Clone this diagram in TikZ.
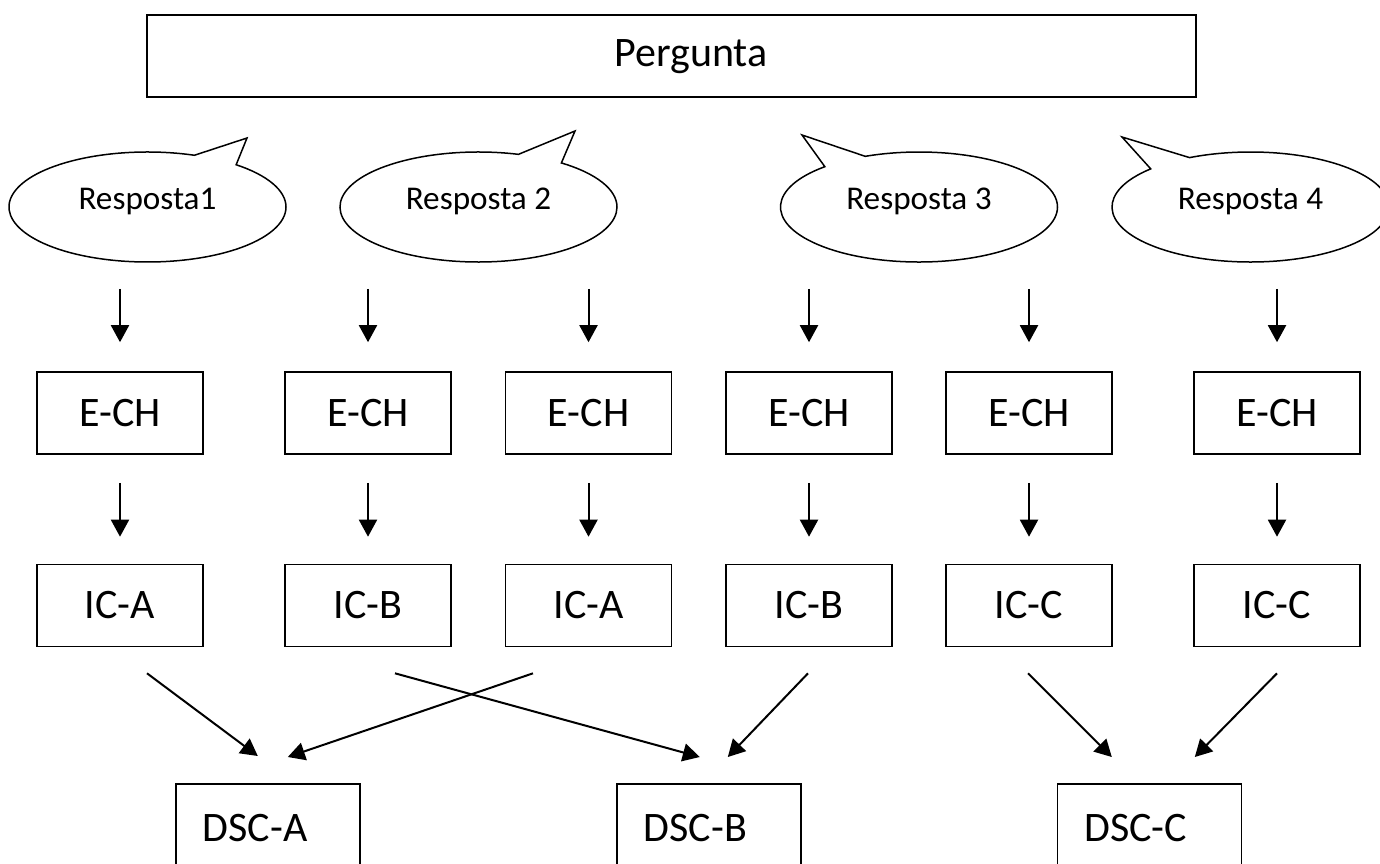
\documentclass[tikz,border=0pt]{standalone}
\usepackage{fontspec}
\setmainfont{Carlito}
\usetikzlibrary{shapes.callouts,arrows.meta}

\begin{document}
\begin{tikzpicture}[x=0.5pt,y=-0.5pt,
    caixa/.style={draw,line width=0.8pt,minimum width=83pt,minimum height=41pt,inner sep=0pt,font=\fontsize{21}{25}\selectfont},
    balao/.style={ellipse callout,draw,line width=0.75pt,minimum width=138.5pt,minimum height=55pt,inner sep=0pt,text depth=8pt,callout pointer arc=20,font=\fontsize{16.6}{20}\selectfont},
    dsc/.style={draw,line width=0.8pt,anchor=north west,text width=65pt,inner xsep=13.5pt,inner ysep=15pt,text depth=60pt,font=\fontsize{21}{25}\selectfont},
    seta/.style={line width=1pt,-{Triangle[length=8.5pt,width=9pt]}}]
    \clip (0,0) rectangle (1380,863);

    \node[draw,line width=1.25pt,minimum width=524.5pt,minimum height=41pt] (pergunta) at (671.5,56) {};
    \node[font=\fontsize{21}{25}\selectfont] (perguntatexto) at (691,57) {Pergunta};

    \node[balao,callout absolute pointer={(247,138)}] (resp1) at (147.5,207) {Resposta1};
    \node[balao,callout absolute pointer={(575,131)}] (resp2) at (478.5,207) {Resposta 2};
    \node[balao,callout absolute pointer={(802,135)}] (resp3) at (919,207) {Resposta 3};
    \node[balao,callout absolute pointer={(1122,137)}] (resp4) at (1250.5,207) {Resposta 4};

    \node[caixa] (ech1) at (120,413) {E-CH};
    \node[caixa] (ech2) at (368,413) {E-CH};
    \node[caixa] (ech3) at (588.5,413) {E-CH};
    \node[caixa] (ech4) at (809,413) {E-CH};
    \node[caixa] (ech5) at (1029,413) {E-CH};
    \node[caixa] (ech6) at (1277,413) {E-CH};

    \node[caixa] (ica1) at (120,605.5) {IC-A};
    \node[caixa] (icb1) at (368,605.5) {IC-B};
    \node[caixa] (ica2) at (588.5,605.5) {IC-A};
    \node[caixa] (icb2) at (809,605.5) {IC-B};
    \node[caixa] (icc1) at (1029,605.5) {IC-C};
    \node[caixa] (icc2) at (1277,605.5) {IC-C};

    \node[dsc] (dsca) at (175,783) {DSC-A};
    \node[dsc] (dscb) at (616,783) {DSC-B};
    \node[dsc] (dscc) at (1056.5,783) {DSC-C};

    %%%%%%%%%%%%%%%%%%%%%%%%%%%%%%%%%%%%%%%%

    \draw[seta,shorten <=13pt,shorten >=14.5pt] (resp1.south -| ech1.north) -- (ech1.north);
    \draw[seta,shorten <=13pt,shorten >=14.5pt] (resp2.south -| ech2.north) -- (ech2.north);
    \draw[seta,shorten <=13pt,shorten >=14.5pt] (resp2.south -| ech3.north) -- (ech3.north);
    \draw[seta,shorten <=13pt,shorten >=14.5pt] (resp3.south -| ech4.north) -- (ech4.north);
    \draw[seta,shorten <=13pt,shorten >=14.5pt] (resp3.south -| ech5.north) -- (ech5.north);
    \draw[seta,shorten <=13pt,shorten >=14.5pt] (resp4.south -| ech6.north) -- (ech6.north);

    \draw[seta,shorten <=14pt,shorten >=13.5pt] (ech1) -- (ica1);
    \draw[seta,shorten <=14pt,shorten >=13.5pt] (ech2) -- (icb1);
    \draw[seta,shorten <=14pt,shorten >=13.5pt] (ech3) -- (ica2);
    \draw[seta,shorten <=14pt,shorten >=13.5pt] (ech4) -- (icb2);
    \draw[seta,shorten <=14pt,shorten >=13.5pt] (ech5) -- (icc1);
    \draw[seta,shorten <=14pt,shorten >=13.5pt] (ech6) -- (icc2);

    \draw[seta] ([shift={(27,26)}]ica1.south) -- ([shift={(-10,-27)}]dsca.north);
    \draw[seta] ([shift={(-55.5,26)}]ica2.south) -- ([shift={(20,-26)}]dsca.north);
    \draw[seta] ([shift={(27,26)}]icb1.south) -- ([shift={(-9,-26)}]dscb.north);
    \draw[seta] ([shift={(-1,26)}]icb2.south) -- ([shift={(19,-26)}]dscb.north);
    \draw[seta] ([shift={(-1,26)}]icc1.south) -- ([shift={(-37.5,-26)}]dscc.north);
    \draw[seta] ([shift={(0,26)}]icc2.south) -- ([shift={(45.5,-26)}]dscc.north);

\end{tikzpicture}
\end{document}
